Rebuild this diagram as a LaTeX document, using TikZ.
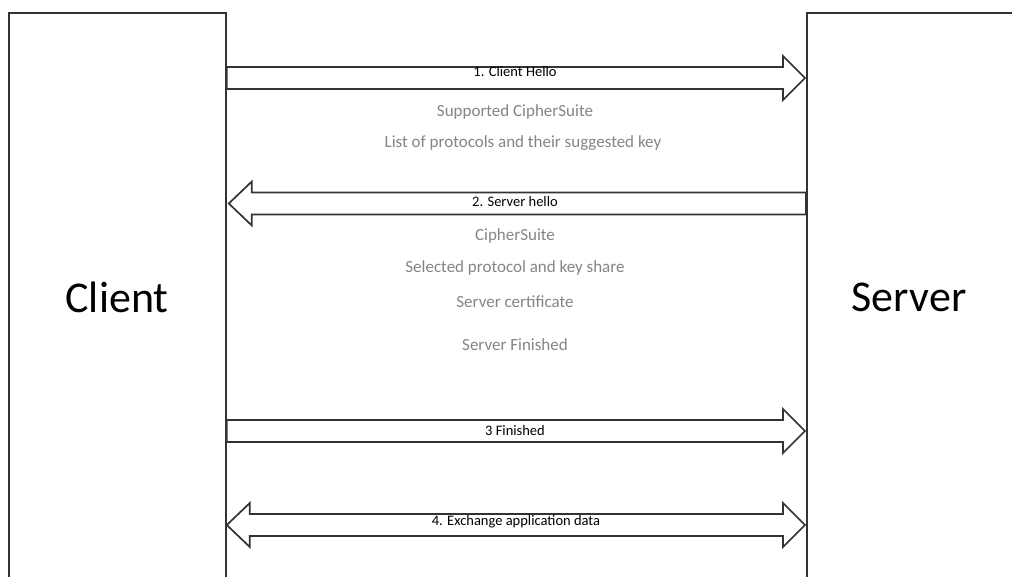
\documentclass[tikz,border=0pt]{standalone}
\usepackage{fontspec}
\setmainfont{Carlito}
\usetikzlibrary{calc}
\definecolor{edge}{HTML}{333333}
\definecolor{note}{HTML}{858585}
\tikzset{
  party/.style={draw=edge, line width=1.8pt, fill=white, inner sep=0pt},
  blk/.style={draw=edge, line width=1.7pt, fill=white, line join=miter},
  msg/.style={font=\fontsize{14.5}{17}\selectfont, text=black, inner sep=0pt},
  detail/.style={font=\fontsize{17}{20}\selectfont, text=note, inner sep=0pt},
  who/.style={font=\fontsize{44}{50}\selectfont, text=black, inner sep=0pt}
}
% arrow pointing right from node #1 to node #2 at height #3
\newcommand\toright[3]{%
  \draw[blk] (#1.east |- 0,#3) ++(0,-11)
    -- ($(#2.west |- 0,#3)+(-23,-11)$) -- ($(#2.west |- 0,#3)+(-23,-22)$)
    -- ($(#2.west |- 0,#3)+(-1,0)$)
    -- ($(#2.west |- 0,#3)+(-23,22)$) -- ($(#2.west |- 0,#3)+(-23,11)$)
    -- ($(#1.east |- 0,#3)+(0,11)$) -- cycle;}
% arrow pointing left from node #1 to node #2 at height #3
\newcommand\toleft[3]{%
  \draw[blk] (#1.west |- 0,#3) ++(0,-11)
    -- ($(#2.east |- 0,#3)+(25,-11)$) -- ($(#2.east |- 0,#3)+(25,-22)$)
    -- ($(#2.east |- 0,#3)+(2,0)$)
    -- ($(#2.east |- 0,#3)+(25,22)$) -- ($(#2.east |- 0,#3)+(25,11)$)
    -- ($(#1.west |- 0,#3)+(0,11)$) -- cycle;}
% two-headed arrow between node #1 and node #2 at height #3
\newcommand\bothways[3]{%
  \draw[blk] (#1.east |- 0,#3)
    -- ($(#1.east |- 0,#3)+(23,-22)$) -- ($(#1.east |- 0,#3)+(23,-11)$)
    -- ($(#2.west |- 0,#3)+(-23,-11)$) -- ($(#2.west |- 0,#3)+(-23,-22)$)
    -- ($(#2.west |- 0,#3)+(-1,0)$)
    -- ($(#2.west |- 0,#3)+(-23,22)$) -- ($(#2.west |- 0,#3)+(-23,11)$)
    -- ($(#1.east |- 0,#3)+(23,11)$) -- ($(#1.east |- 0,#3)+(23,22)$)
    -- cycle;}
\begin{document}
\begin{tikzpicture}[x=1pt, y=-1pt]
  \clip (0,0) rectangle (1012,576);
  \fill[white] (0,0) rectangle (1012,576);

  % the two parties
  \node[party, minimum width=217pt, minimum height=600pt, anchor=north west]
    (client) at (8,12) {};
  \node[party, minimum width=240pt, minimum height=600pt, anchor=north west]
    (server) at (806,12) {};
  \node[who] (clientname) at (117,297) {Client};
  \node[who] (servername) at (909,297) {Server};

  % messages
  \toright{client}{server}{78}
  \node[msg] (m1) at (515,72) {1. Client Hello};
  \node[detail] (d1) at (515,112) {Supported CipherSuite};
  \node[detail] (d2) at (523,143) {List of protocols and their suggested key};

  \toleft{server}{client}{203.5}
  \node[msg] (m2) at (515,202) {2. Server hello};
  \node[detail] (d3) at (515,236) {CipherSuite};
  \node[detail] (d4) at (515,268) {Selected protocol and key share};
  \node[detail] (d5) at (515,302) {Server certificate};
  \node[detail] (d6) at (515,345) {Server Finished};

  \toright{client}{server}{431}
  \node[msg] (m3) at (515,431) {3 Finished};

  \bothways{client}{server}{525}
  \node[msg] (m4) at (516,522) {4. Exchange application data};
\end{tikzpicture}
\end{document}
